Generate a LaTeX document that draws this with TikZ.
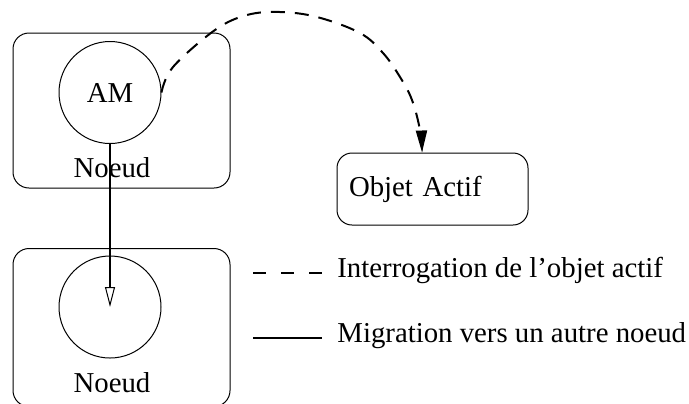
\documentclass[tikz,border=0pt]{standalone}
\usepackage{fontspec}
\setmainfont{Liberation Serif}
\usetikzlibrary{arrows.meta}
\begin{document}
\begin{tikzpicture}[x=0.5pt,y=-0.5pt,
  every node/.style={font=\fontsize{14.4}{17}\selectfont},
  nodebox/.style={draw,rounded corners=8pt,line width=0.5pt,minimum width=108.5pt,inner sep=0pt},
  agent/.style={draw,circle,line width=0.5pt,minimum size=51pt,inner sep=0pt},
  objbox/.style={draw,rounded corners=7.5pt,line width=0.5pt,minimum height=36pt,inner xsep=6pt,text width=83.5pt,align=left},
  plain/.style={inner sep=0pt},
  query/.style={line width=1pt,dash pattern=on 7pt off 5pt,-{Triangle[length=11pt,width=5.5pt]}},
  migr/.style={line width=1pt,-{Triangle[open,length=10pt,width=5pt,line width=0.5pt]}},
  legq/.style={line width=1pt,dash pattern=on 6.5pt off 7.5pt},
  legm/.style={line width=1pt}]
\useasboundingbox (0,0) rectangle (689,403);
% boxes
\node[nodebox,minimum height=77.5pt] (n1) at (121.5,110.5) {};
\node[nodebox,minimum height=79pt] (n2) at (121.5,327.5) {};
\node[agent] (am) at (110,92.5) {\raisebox{-2pt}{AM}};
\node[agent] (c2) at (110,307) {};
\node[plain] (l1) at (112,168) {Noeud};
\node[plain] (l2) at (112,383) {Noeud};
\node[objbox] (obj) at (432.5,189) {Objet Actif};
% connectors
\coordinate (tgt) at ([xshift=-5.25pt]obj.north);
\draw[query] plot[smooth,tension=0.6] coordinates {(am.east) (173,67) (215,30) (247,15) (280,12) (317,17) (360,33) (383,53) (400,77) (412,100) (420,130) (tgt)};
\draw[migr] (am.south) -- (c2.center);
% legend
\coordinate (q1) at (253,273); \coordinate (q2) at (322,273);
\coordinate (m1) at (253,338); \coordinate (m2) at (322,338);
\draw[legq] (q1) -- (q2);
\draw[legm] (m1) -- (m2);
\node[plain,anchor=mid west] (t1) at (337,273) {Interrogation de l’objet actif};
\node[plain,anchor=mid west] (t2) at (337,338) {Migration vers un autre noeud};
\end{tikzpicture}
\end{document}
